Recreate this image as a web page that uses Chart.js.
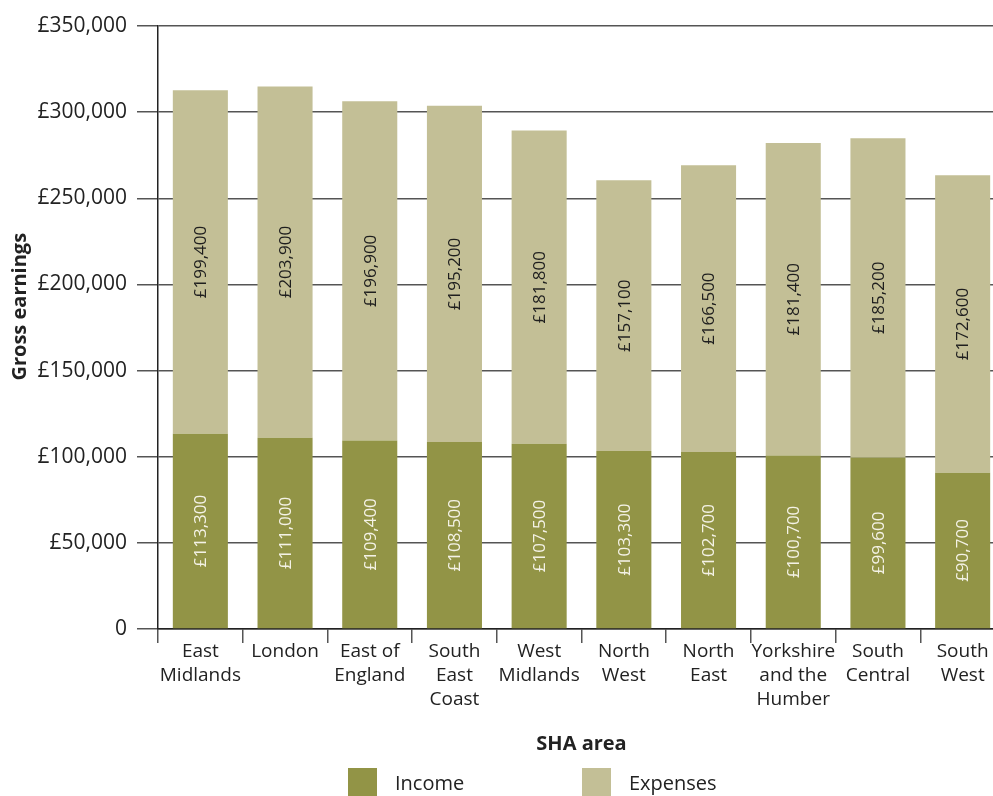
<!DOCTYPE html>
<html>
<head>
<meta charset="utf-8">
<script src="https://cdn.jsdelivr.net/npm/chart.js@4/dist/chart.umd.min.js"></script>
<style>
  html, body { margin: 0; padding: 0; background: #fff; overflow: hidden; width: 993px; height: 796px; }
  #wrap { position: absolute; left: 0; top: 0; width: 1005px; height: 796px; }
  .leg { position: absolute; top: 768px; height: 28px; display: flex; align-items: center; font-family: "Open Sans", sans-serif; font-size: 20px; color: #222; }
  .sw { width: 29px; height: 28px; margin-right: 18px; }
</style>
</head>
<body>
<div id="wrap"><canvas id="c" width="1005" height="796"></canvas></div>
<div class="leg" style="left:348px"><div class="sw" style="background:#929446"></div><span>Income</span></div>
<div class="leg" style="left:582px"><div class="sw" style="background:#C3BF96"></div><span>Expenses</span></div>
<script>
const categories = [
  ["East", "Midlands"], "London", ["East of", "England"], ["South", "East", "Coast"],
  ["West", "Midlands"], ["North", "West"], ["North", "East"],
  ["Yorkshire", "and the", "Humber"], ["South", "Central"], ["South", "West"]
];
const income = [113300, 111000, 109400, 108500, 107500, 103300, 102700, 100700, 99600, 90700];
const expenses = [199400, 203900, 196900, 195200, 181800, 157100, 166500, 181400, 185200, 172600];
const yTicks = [0, 50000, 100000, 150000, 200000, 250000, 300000, 350000];

const FONT = '"Open Sans", sans-serif';
const fmt = v => '£' + v.toLocaleString('en-GB');

const barLabels = {
  id: 'barLabels',
  afterDatasetsDraw(chart) {
    const ctx = chart.ctx;
    chart.data.datasets.forEach((ds, di) => {
      const meta = chart.getDatasetMeta(di);
      meta.data.forEach((bar, i) => {
        const yc = (bar.y + bar.base) / 2;
        ctx.save();
        ctx.translate(bar.x, yc);
        ctx.rotate(-Math.PI / 2);
        ctx.font = '17px ' + FONT;
        ctx.textAlign = 'center';
        ctx.textBaseline = 'middle';
        ctx.fillStyle = di === 0 ? '#F4F2E6' : '#1e1e1e';
        ctx.fillText(fmt(ds.data[i]), 0, 1);
        ctx.restore();
      });
    });
  }
};

new Chart(document.getElementById('c'), {
  type: 'bar',
  data: {
    labels: categories,
    datasets: [
      { label: 'Income', data: income, backgroundColor: '#929446' },
      { label: 'Expenses', data: expenses, backgroundColor: '#C3BF96' }
    ]
  },
  options: {
    responsive: false,
    devicePixelRatio: 1,
    animation: false,
    layout: { padding: { top: 26, left: 0, right: 0, bottom: 40 } },
    plugins: { legend: { display: false }, tooltip: { enabled: false } },
    datasets: { bar: { barPercentage: 0.65, categoryPercentage: 1 } },
    scales: {
      x: {
        stacked: true,
        grid: { drawOnChartArea: false, drawTicks: true, tickLength: 14, color: '#555', lineWidth: 1.5, offset: true },
        border: { display: true, color: '#222', width: 1.5 },
        ticks: { color: '#222', padding: -3, font: { family: FONT, size: 19, lineHeight: 1.26 }, maxRotation: 0, autoSkip: false },
        title: { display: true, text: 'SHA area', color: '#222', font: { family: FONT, size: 20, weight: 'bold', lineHeight: 1.2 }, padding: { top: 0, bottom: 0 } },
        afterFit(s) { s.height = 796 - 40 - 629; }
      },
      y: {
        stacked: true,
        min: 0, max: 350000,
        afterBuildTicks(s) { s.ticks = yTicks.map(v => ({ value: v })); },
        grid: { color: '#555', lineWidth: 1.5, tickLength: 21 },
        border: { display: true, color: '#222', width: 1.5 },
        ticks: { color: '#222', padding: 10, font: { family: FONT, size: 21 }, callback: v => v === 0 ? '0' : fmt(v) },
        title: { display: true, text: '        Gross earnings', color: '#222', font: { family: FONT, size: 20, weight: 'bold', lineHeight: 1.2 }, padding: { top: 8, bottom: 0 } },
        afterFit(s) { s.width = 158; }
      }
    }
  },
  plugins: [barLabels]
});
</script>
</body>
</html>
